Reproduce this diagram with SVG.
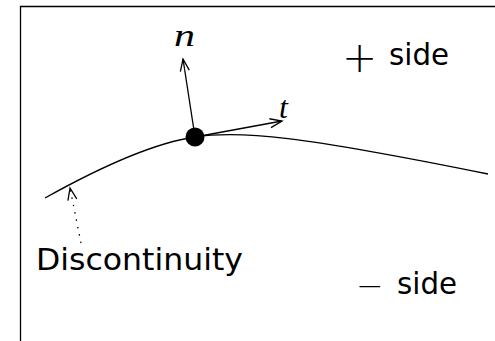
<svg xmlns="http://www.w3.org/2000/svg" width="495" height="341" viewBox="0 0 495 341">
<style>
.ln{fill:none;stroke:#000;stroke-width:1.3}
.lbl{font-family:"DejaVu Sans",sans-serif;font-size:30px;fill:#000}
.math{font-family:"Liberation Serif",serif;font-style:italic;font-size:32px;fill:#000}
.sym{font-family:"DejaVu Sans",sans-serif;font-weight:200;fill:#000}
</style>
<defs>
<marker id="ah" markerUnits="userSpaceOnUse" markerWidth="16" markerHeight="12" viewBox="-14 -6 16 12" refX="0" refY="0" orient="auto">
<path d="M-12,-4.5 L0,0 L-12,4.5" fill="none" stroke="#000" stroke-width="1.3"/>
</marker>
</defs>
<rect width="495" height="341" fill="#fff"/>
<path class="ln" d="M20.5,341 V6.5 H495" stroke-width="1.6"/>
<g id="connectors">
<path id="curve" class="ln" d="M45,198 Q140,145 195,137 C240,130 300,136 488,174"/>
<line class="ln" x1="195" y1="137" x2="183" y2="59" marker-end="url(#ah)"/>
<line class="ln" x1="195" y1="137" x2="282" y2="121" marker-end="url(#ah)"/>
<line class="ln" x1="81" y1="243" x2="70" y2="188" stroke-dasharray="1.5 6" marker-end="url(#ah)"/>
</g>
<g id="point"><circle cx="195" cy="137" r="9.5" fill="#000"/></g>
<g id="label-n"><text class="math" x="174" y="46" textLength="21" lengthAdjust="spacingAndGlyphs">n</text></g>
<g id="label-t"><text class="math" x="279" y="118">t</text></g>
<g id="label-plus"><text class="lbl" x="342" y="72"><tspan class="sym" font-size="42" x="342" y="72">+</tspan><tspan x="389" y="65" textLength="60" lengthAdjust="spacingAndGlyphs">side</tspan></text></g>
<g id="label-minus"><text class="lbl" x="356" y="297"><tspan class="sym" font-size="33" x="356" y="297">−</tspan><tspan x="397" y="294" textLength="60" lengthAdjust="spacingAndGlyphs">side</tspan></text></g>
<g id="label-disc"><text class="lbl" x="36" y="270" textLength="207" lengthAdjust="spacingAndGlyphs">Discontinuity</text></g>
</svg>
